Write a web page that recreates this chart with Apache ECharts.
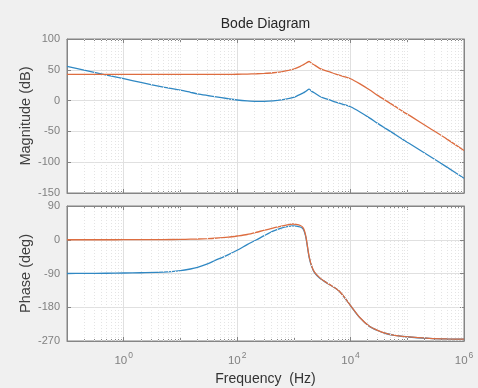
<!DOCTYPE html>
<html><head><meta charset="utf-8">
<script src="https://cdn.jsdelivr.net/npm/echarts@6/dist/echarts.min.js"></script>
<style>html,body{margin:0;padding:0;background:#f0f0f0;} #c{width:478px;height:388px;}</style>
</head><body><div id="c"></div>
<script>
// Frequencies (Hz)
const freq = [0.1,0.2,0.5,1,2,5,10,15,20,30,40,70,100,150,220,300,430,600,800,950,1100,1300,1450,1550,1650,1860,2100,2325,2840,3300,4300,5500,6300,8000,10000,14400,21500,30000,42000,60000,83000,120000,245000,500000,1000000];
// Magnitude (dB)
const magBlue = [55.5,49.5,41.5,35.5,29.5,22,17,13.5,11,8.3,6.5,3,1,-0.5,-1.3,-1.2,-0.3,1.2,3.3,5,7,10,12.3,13.8,15.5,18.5,14.6,12.3,7,4.5,1,-2.5,-4.2,-7,-10,-18,-28,-37,-45.5,-54.5,-63,-72,-90,-108,-126];
const magOrange = [42.5,42.5,42.5,42.5,42.5,42.5,42.5,42.5,42.5,42.5,42.5,42.6,42.8,43.1,43.6,44.2,45.2,46.8,48.9,50.6,52.6,55.6,57.9,59.4,61.1,63.5,59.8,57.6,52.4,50,46.5,43,41.3,38.5,35.5,27.5,17.5,8.5,0,-9,-17.5,-26.5,-44.5,-62.5,-81];
// Phase (deg)
const phaseBlue = [-90,-89.8,-89.3,-88.7,-88,-86.5,-82.5,-78,-73.5,-64.5,-56,-39.5,-28,-13,0,11,23,31,35.5,37,36.5,34,29,19,2,-47,-75,-88,-102,-109,-120,-130,-137,-156,-176,-207,-231,-242,-250,-255,-258,-260,-263,-264.5,-265];
const phaseOrange = [0,0,0,0.1,0.2,0.5,1,1.5,2,3,4,7,10,14,20,25.5,31,36.5,40.5,42,41,38,32.5,22,4.5,-45,-73.5,-87,-101,-108.5,-119.7,-129.8,-136.8,-155.8,-175.8,-206.8,-230.8,-241.8,-249.8,-254.9,-257.9,-259.9,-263,-264.5,-265];
// Axis ranges / ticks
const magAxis = {min:-150, max:100, step:50};
const phaseAxis = {min:-270, max:90, step:90};
const freqRange = {min:0.1, max:1e6};
const labeledExponents = [0,2,4,6];

const minorGrid = [];
for (let e = -1; e < 6; e++) {
  for (let k = 2; k <= 9; k++) minorGrid.push(+(k * Math.pow(10, e)).toPrecision(6));
  if (e % 2 === 0 && e >= 0) minorGrid.push(Math.pow(10, e + 1));
}

const FONT = 'Liberation Sans, Arial, Helvetica, sans-serif';
const TICKC = '#808080';
const BORDER = '#858585';
const GRIDC = '#e0e0e0';
const BLUE = '#3088c3';
const ORANGE = '#dd6d40';

function xAx(gi, pos, labels) {
  return {
    type:'log', logBase:10, gridIndex:gi, position:pos, min:freqRange.min, max:freqRange.max,
    axisLine:{show:true, onZero:false, lineStyle:{color:BORDER}},
    axisTick:{show:true, inside:true, length:4, lineStyle:{color:BORDER}},
    minorTick:{show:true, splitNumber:9, length:2, lineStyle:{color:BORDER}},
    splitLine:{show: pos==='bottom', lineStyle:{color:['transparent', GRIDC], width:1}},
    axisLabel: labels ? {
      show:true, margin:10, color:TICKC, fontFamily:FONT,
      formatter: v => { const e = Math.round(Math.log10(v)); return labeledExponents.includes(e) ? '{b|10}{s|' + e + '}' : ''; },
      rich:{ b:{fontSize:11.5, color:TICKC, fontFamily:FONT, verticalAlign:'bottom', lineHeight:16}, s:{fontSize:8.5, color:TICKC, fontFamily:FONT, verticalAlign:'top', padding:[0,0,0,1]} }
    } : {show:false}
  };
}
function yAx(gi, pos, rng, labels, name) {
  return {
    type:'value', gridIndex:gi, position:pos, min:rng.min, max:rng.max, interval:rng.step,
    axisLine:{show:true, onZero:false, lineStyle:{color:BORDER}},
    axisTick:{show:true, inside:true, length:4, lineStyle:{color:BORDER}},
    splitLine:{show: pos==='left', lineStyle:{color:GRIDC, width:1}},
    axisLabel:{show:labels, margin:7, color:TICKC, fontFamily:FONT, fontSize:11},
    name: name || '', nameLocation:'middle', nameGap:34, nameMoveOverlap:false,
    nameTextStyle:{fontSize:14.5, color:'#404040', fontFamily:FONT}
  };
}

const xA = [xAx(0,'bottom',false), xAx(1,'bottom',true), xAx(0,'top',false), xAx(1,'top',false)];
xA[1].name = 'Frequency  (Hz)';
xA[1].nameLocation = 'middle';
xA[1].nameGap = 31;
xA[1].nameMoveOverlap = false;
xA[1].nameTextStyle = {fontSize:14, color:'#333', fontFamily:FONT};

const yA = [yAx(0,'left',magAxis,true,'Magnitude (dB)'), yAx(1,'left',phaseAxis,true,'Phase (deg)'),
            yAx(0,'right',magAxis,false), yAx(1,'right',phaseAxis,false)];

function minorSeries(gi) {
  return { type:'line', xAxisIndex:gi, yAxisIndex:gi, data:[], z:1, silent:true,
    markLine:{ silent:true, symbol:['none','none'], label:{show:false}, animation:false,
      lineStyle:{color:'#e4e4e4', type:[1,2], width:1},
      data: minorGrid.map(f => ({xAxis:f})) } };
}
function curve(gi, vals, color) {
  return { type:'line', xAxisIndex:gi, yAxisIndex:gi, z:3, showSymbol:false, smooth:0.25,
    data: freq.map((f,i) => [f, vals[i]]), lineStyle:{color, width:1.3}, itemStyle:{color} };
}

const chart = echarts.init(document.getElementById('c'), null, {renderer:'canvas'});
chart.setOption({
  backgroundColor:'#f0f0f0',
  animation:false,
  grid:[
    {left:67, top:39, width:397, height:154, show:true, backgroundColor:'#fff', borderColor:BORDER, borderWidth:1},
    {left:67, top:206, width:397, height:135, show:true, backgroundColor:'#fff', borderColor:BORDER, borderWidth:1}
  ],
  xAxis: xA,
  yAxis: yA,
  graphic:[{type:'text', x:265.5, y:24, style:{text:'Bode Diagram', fill:'#262626', font:'14px ' + FONT, textAlign:'center', textVerticalAlign:'middle'}}],
  series:[
    minorSeries(0), minorSeries(1),
    curve(0, magBlue, BLUE), curve(0, magOrange, ORANGE),
    curve(1, phaseBlue, BLUE), curve(1, phaseOrange, ORANGE)
  ]
});
</script></body></html>
